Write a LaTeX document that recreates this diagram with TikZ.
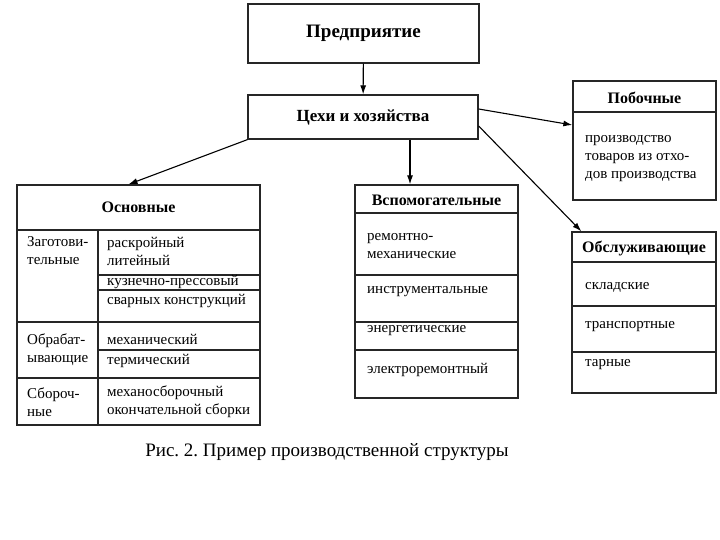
\documentclass[tikz,border=0pt]{standalone}
\usepackage{fontspec}
\setmainfont{Liberation Serif}
\usetikzlibrary{arrows.meta}
\frenchspacing

\begin{document}
\begin{tikzpicture}[x=1pt, y=-1pt]
    \tikzset{box/.style={draw=black!85, line width=1.3pt, inner sep=0pt},
             rule/.style={draw=black!85, line width=1.2pt},
             head/.style={inner sep=0pt, font=\fontsize{16}{18}\selectfont\bfseries},
             txt/.style={anchor=west, align=left, inner sep=0pt,
                         font=\fontsize{15}{18}\selectfont},
             arr/.style={-{Latex[length=9pt, width=6pt]}, line width=1.1pt}}
    \useasboundingbox (0,0) rectangle (720,540);
    % top levels
    \node[box, minimum width=231, minimum height=59,
          font=\fontsize{19}{22}\selectfont\bfseries] (pred) at (363.5,33.5) {Предприятие};
    \node[box, minimum width=230, minimum height=44,
          font=\fontsize{17}{20}\selectfont\bfseries] (tsekhi) at (363,117) {Цехи и хозяйства};
    % main shops
    \node[box, minimum width=243, minimum height=240] (osn) at (138.5,305) {};
    \foreach \y in {230,322,378} \draw[rule] (17,\y) -- (260,\y);
    \foreach \y in {275,290,350} \draw[rule] (98,\y) -- (260,\y);
    \draw[rule] (98,230) -- (98,425);
    \node[head] (osnh) at (138.5,207) {Основные};
    \node[txt] (zag) at (27,251) {Заготови-\\тельные};
    \node[txt] (obr) at (27,350) {Обрабат-\\ывающие};
    \node[txt] (sbor) at (27,402) {Сбороч-\\ные};
    \node[txt] (rask) at (107,251) {раскройный\\литейный};
    \node[txt] (kuzn) at (107,282) {кузнечно-прессовый};
    \node[txt] (svar) at (107,301) {сварных конструкций};
    \node[txt] (mekh) at (107,339) {механический};
    \node[txt] (term) at (107,361) {термический};
    \node[txt] (msb) at (107,402) {механосборочный\\окончательной сборки};
    % auxiliary shops
    \node[box, minimum width=163, minimum height=213] (vsp) at (436.5,291.5) {};
    \foreach \y in {213,275,322,350} \draw[rule] (355,\y) -- (518,\y);
    \node[head] (vsph) at (436.5,200) {Вспомогательные};
    \node[txt] (rem) at (367,246.5) {ремонтно-\\механические};
    \node[txt] (instr) at (367,292) {инструментальные};
    \node[txt] (energ) at (367,331) {энергетические};
    \node[txt] (elek) at (367,370) {электроремонтный};
    % side shops
    \node[box, minimum width=143, minimum height=119] (pob) at (644.5,140.5) {};
    \draw[rule] (573,112) -- (716,112);
    \node[head] (pobh) at (644.5,98) {Побочные};
    \node[txt] (otkh) at (585,158.5) {производство\\товаров из отхо-\\дов производства};
    % service shops
    \node[box, minimum width=144, minimum height=161] (obs) at (644,312.5) {};
    \foreach \y in {262,306,352} \draw[rule] (572,\y) -- (716,\y);
    \node[head] (obsh) at (644,248) {Обслуживающие};
    \node[txt] (sklad) at (585,287) {складские};
    \node[txt] (trans) at (585,327) {транспортные};
    \node[txt] (tar) at (585,365) {тарные};
    % links
    \draw[arr] (pred) -- (tsekhi);
    \draw[arr] (tsekhi.south west) -- ([xshift=-10pt]osn.north);
    \draw[arr] ([xshift=47pt]tsekhi.south) -- ([xshift=47pt]tsekhi.south |- vsp.north);
    \draw[arr] (tsekhi.east |- 0,109) -- (pob.west |- 0,125);
    \draw[arr] (tsekhi.east |- 0,126) -- ([xshift=10pt]obs.north west);
    \node[font=\fontsize{19}{22}\selectfont] (cap) at (327,452)
        {Рис. 2. Пример производственной структуры};
\end{tikzpicture}
\end{document}
